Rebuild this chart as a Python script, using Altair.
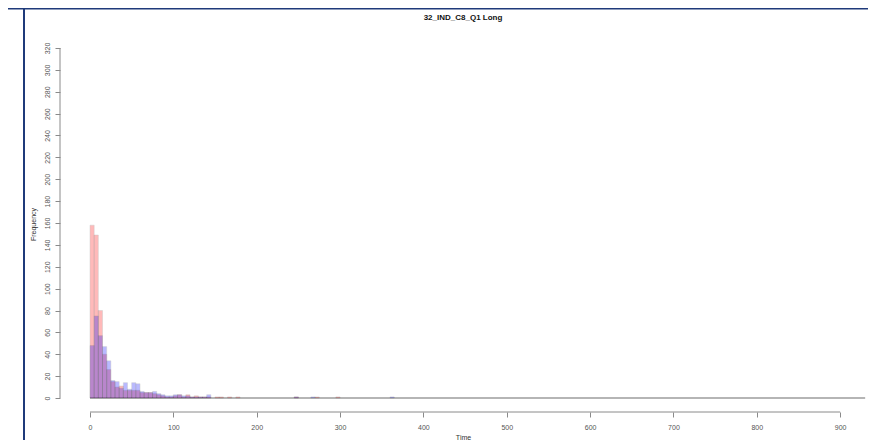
import altair as alt
import pandas as pd

# ---- data (bin width 5, bins start at 0) ----
BIN_WIDTH = 5
red_counts = [158, 149, 80, 40, 26, 15, 10, 11, 7, 7, 7, 7, 5, 5, 5, 4, 3, 2,
              1, 1, 2, 3, 1, 3, 1, 2, 1, 1, 1, 0, 1, 1, 0, 1, 0, 1, 0]
blue_counts = [48, 75, 57, 47, 34, 16, 15, 9, 14, 8, 14, 13, 6, 5, 5, 6, 4, 3,
               2, 2, 3, 3, 2, 2, 1, 1, 1, 1, 3, 0, 0, 0, 0, 0, 0, 0, 0]
red_extra_starts = [245, 270, 295]
red_extra_counts = [1, 1, 1]
blue_extra_starts = [245, 265, 360]
blue_extra_counts = [1, 1, 1]
last_break = 930

x_ticks = [0, 100, 200, 300, 400, 500, 600, 700, 800, 900]
y_ticks = list(range(0, 321, 20))
x_domain = [-36, 931]
y_domain = [-12.8, 332.8]
chart_title = "32_IND_C8_Q1 Long"
x_title = "Time"
y_title = "Frequency"

rows = []
for name, counts, xs, xc in [("A", red_counts, red_extra_starts, red_extra_counts),
                             ("B", blue_counts, blue_extra_starts, blue_extra_counts)]:
    starts = [i * BIN_WIDTH for i in range(len(counts))] + xs
    cnts = list(counts) + xc
    for s, c in zip(starts, cnts):
        if c > 0:
            rows.append({"series": name, "start": s, "end": s + BIN_WIDTH, "count": c})
df = pd.DataFrame(rows)

FONT = "Liberation Sans"
xs = alt.Scale(domain=x_domain, nice=False, zero=False)
ys = alt.Scale(domain=y_domain, nice=False, zero=False)

x_axis = alt.Axis(values=x_ticks, domain=False, grid=False, tickColor="#8a8a8a",
                  tickSize=5, labelFont=FONT, labelFontSize=7, labelColor="#555",
                  labelPadding=6, labelOverlap=False, title=x_title, titleFont=FONT,
                  titleFontSize=7, titleFontWeight="normal", titleColor="#333",
                  titleX=403, titleY=27, titleBaseline="alphabetic")
y_axis = alt.Axis(values=y_ticks, domain=False, grid=False, tickColor="#8a8a8a",
                  tickSize=5, labelFont=FONT, labelFontSize=7, labelColor="#555",
                  labelAngle=270, labelAlign="center", labelBaseline="bottom",
                  labelPadding=5, labelOverlap=False, labelFlush=False,
                  title=y_title, titleFont=FONT, titleFontSize=7,
                  titleFontWeight="normal", titleColor="#333",
                  titleAngle=270, titleX=-27, titleY=190, titleBaseline="middle")

base_line = alt.Chart(pd.DataFrame({"a": [0], "b": [last_break], "y": [0]})).mark_rule(
    color="#b5b5b5", strokeWidth=2
).encode(
    x=alt.X("a:Q", scale=xs, axis=x_axis),
    x2="b:Q",
    y=alt.Y("y:Q", scale=ys, axis=y_axis),
)

def bars(series, color):
    return alt.Chart(df[df.series == series]).mark_bar(
        color=color, opacity=0.27, stroke="#333", strokeWidth=0.6, strokeOpacity=0.7
    ).encode(
        x=alt.X("start:Q", scale=xs, axis=x_axis),
        x2="end:Q",
        y=alt.Y("count:Q", scale=ys, axis=y_axis),
        y2=alt.datum(0),
    )

red_bars = bars("A", "#ff0000")
blue_bars = bars("B", "#0000ff")

x_axis_line = alt.Chart(pd.DataFrame({"a": [x_ticks[0]], "b": [x_ticks[-1]], "y": [y_domain[0]]})).mark_rule(
    color="#8a8a8a", strokeWidth=1
).encode(x=alt.X("a:Q", scale=xs, axis=x_axis), x2="b:Q", y=alt.Y("y:Q", scale=ys, axis=y_axis))

y_axis_line = alt.Chart(pd.DataFrame({"a": [y_ticks[0]], "b": [y_ticks[-1]], "x": [x_domain[0]]})).mark_rule(
    color="#8a8a8a", strokeWidth=1
).encode(y=alt.Y("a:Q", scale=ys, axis=y_axis), y2="b:Q", x=alt.X("x:Q", scale=xs, axis=x_axis))

title_text = alt.Chart(pd.DataFrame({"t": [chart_title]})).mark_text(
    font=FONT, fontSize=8, fontWeight="bold", color="#111", align="center", baseline="middle"
).encode(x=alt.value(403), y=alt.value(-16), text="t:N")

frame_v = alt.Chart(pd.DataFrame({"k": [0]})).mark_rule(color="#1f3a7a", strokeWidth=2).encode(
    x=alt.value(-36), y=alt.value(-26), y2=alt.value(420)
)
frame_h = alt.Chart(pd.DataFrame({"k": [0]})).mark_rule(color="#1f3a7a", strokeWidth=2).encode(
    x=alt.value(-60), x2=alt.value(820), y=alt.value(-25.5)
)

chart = alt.layer(base_line, red_bars, blue_bars, x_axis_line, y_axis_line,
                  title_text, frame_v, frame_h).properties(
    width=806, height=378,
    autosize=alt.AutoSizeParams(type="none"),
    padding={"left": 52, "top": 26, "right": 2, "bottom": 28},
).configure_view(stroke=None)

chart.save("out.html", embed_options={"renderer": "svg", "actions": False})
